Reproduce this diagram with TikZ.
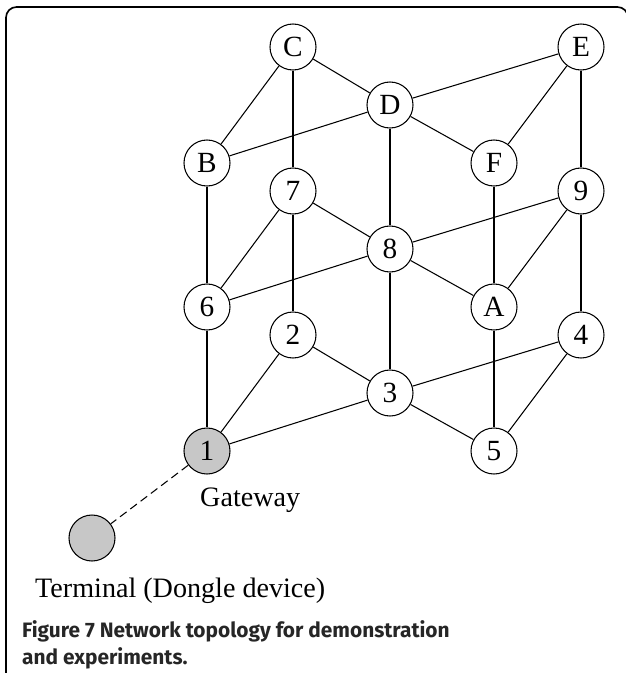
\documentclass[tikz,border=0pt]{standalone}
\usepackage{fontspec}
\setmainfont{Liberation Serif}
\newfontfamily\capfont{Fira Sans}
\begin{document}
\begin{tikzpicture}[x=0.03cm,y=-0.03cm,meshnode/.style={circle,draw=black,line width=0.9pt,fill=white,minimum size=1.38cm,inner sep=0pt,font=\fontsize{25}{27}\selectfont},gatenode/.style={meshnode,fill=black!22},link/.style={draw=black,line width=0.9pt},radiolink/.style={link,dash pattern=on 7pt off 4pt},frame/.style={draw=black,line width=1.4pt,rounded corners=9pt},label/.style={font=\fontsize{24}{26}\selectfont,inner sep=0pt},caption/.style={font=\capfont\bfseries\fontsize{17.8}{20}\selectfont,inner sep=0pt,text=black!85}]
\useasboundingbox (0,0) rectangle (626,673);
\draw[frame] (6,680) -- (6,7) -- (628,7) -- (628,60);
% mesh nodes
\node[meshnode] (C) at (293,47) {C}; \node[meshnode] (E) at (581,47) {E};
\node[meshnode] (D) at (390,105) {D};
\node[meshnode] (B) at (207,163) {B}; \node[meshnode] (F) at (494,163) {F};
\node[meshnode] (n7) at (293,191) {7}; \node[meshnode] (n9) at (581,191) {9};
\node[meshnode] (n8) at (390,249) {8};
\node[meshnode] (n6) at (207,307) {6}; \node[meshnode] (A) at (494,307) {A};
\node[meshnode] (n2) at (293,335) {2}; \node[meshnode] (n4) at (581,335) {4};
\node[meshnode] (n3) at (390,393) {3};
\node[gatenode] (n1) at (207,451) {1}; \node[meshnode] (n5) at (494,451) {5};
\node[gatenode] (term) at (92,538) {};
% links
\foreach \a/\b in {C/B,C/D,C/n7,D/E,D/B,D/F,D/n8,E/F,E/n9,B/n6,n7/n6,n7/n8,n7/n2,n8/n9,n8/n6,n8/A,n8/n3,F/A,n9/A,n9/n4,n6/n1,n2/n1,n2/n3,n3/n1,n3/n4,n3/n5,A/n5,n4/n5}
  \draw[link] (\a) -- (\b);
\draw[radiolink] (n1) -- (term);
\node[label,anchor=base west] (gw) at (200,506) {Gateway};
\node[label,anchor=base west] (termlbl) at (35,597) {Terminal (Dongle device)};
\node[caption,anchor=base west] (cap1) at (22,637) {Figure 7 Network topology for demonstration};
\node[caption,anchor=base west] (cap2) at (22,664) {and experiments.};
\end{tikzpicture}
\end{document}
